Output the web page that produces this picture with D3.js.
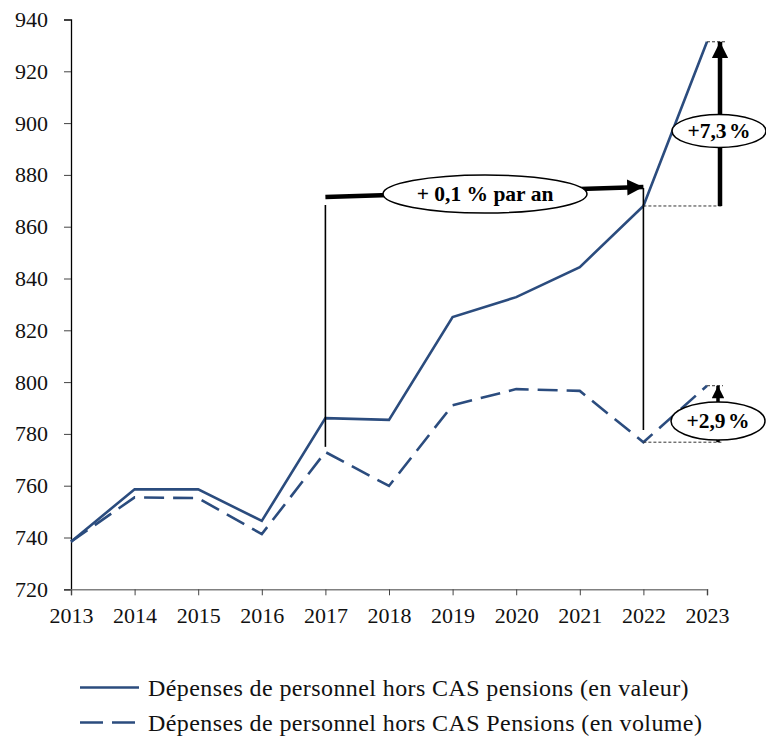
<!DOCTYPE html>
<html>
<head>
<meta charset="utf-8">
<script src="https://cdn.jsdelivr.net/npm/d3@7"></script>
<style>
  body { margin: 0; background: #fff; }
  text { font-family: "Liberation Serif", "DejaVu Serif", serif; }
</style>
</head>
<body>
<div id="chart"></div>
<script>
var years = [2013, 2014, 2015, 2016, 2017, 2018, 2019, 2020, 2021, 2022, 2023];
var valeur = [738.4, 758.6, 758.6, 746.4, 786.1, 785.4, 825.1, 832.8, 844.4, 868.0, 931.4];
var volume = [738.4, 755.5, 755.2, 741.3, 773.0, 759.9, 791.1, 797.3, 796.6, 776.8, 798.6];
var yTicks = [720, 740, 760, 780, 800, 820, 840, 860, 880, 900, 920, 940];
var seriesNames = ['Dépenses de personnel hors CAS pensions (en valeur)',
                   'Dépenses de personnel hors CAS Pensions (en volume)'];

var width = 766, height = 738;
var blue = '#2b4c7e';

var svg = d3.select('#chart')
    .append('svg')
    .attr('width', width)
    .attr('height', height);

var x = d3.scaleLinear().domain([2013, 2023]).range([71, 707]);
var y = d3.scaleLinear().domain([720, 940]).range([589.3, 19.5]);

// axes
var yAxis = svg.append('g')
    .attr('transform', 'translate(71,0)')
    .call(d3.axisLeft(y).tickValues(yTicks).tickSize(7).tickPadding(16).tickFormat(d3.format('d')));
yAxis.select('.domain').attr('stroke', '#000').attr('stroke-width', 1.3);
yAxis.selectAll('.tick line').attr('stroke', '#444');

var xAxis = svg.append('g')
    .attr('transform', 'translate(0,589.3)')
    .call(d3.axisBottom(x).tickValues(years).tickSize(6).tickPadding(12).tickFormat(d3.format('d')));
xAxis.select('.domain').attr('stroke', '#808080').attr('stroke-width', 1.6);
xAxis.selectAll('.tick line').attr('stroke', '#444');

svg.selectAll('.tick text')
    .attr('font-size', 22)
    .attr('fill', '#111');

// series lines
var line = d3.line()
    .x(function (d, i) { return x(years[i]); })
    .y(function (d) { return y(d); });

svg.append('path')
    .datum(valeur)
    .attr('d', line)
    .attr('fill', 'none')
    .attr('stroke', blue)
    .attr('stroke-width', 2.6);

svg.append('path')
    .datum(volume)
    .attr('d', line)
    .attr('fill', 'none')
    .attr('stroke', blue)
    .attr('stroke-width', 2.6)
    .attr('stroke-dasharray', '20,9');

// annotations
var defs = svg.append('defs');
defs.append('marker')
    .attr('id', 'head')
    .attr('viewBox', '0 0 10 10')
    .attr('refX', 10).attr('refY', 5)
    .attr('markerWidth', 4).attr('markerHeight', 3.6)
    .attr('markerUnits', 'strokeWidth')
    .attr('orient', 'auto')
    .append('path')
    .attr('d', 'M0,0 L10,5 L0,10 Z')
    .attr('fill', '#000');

// vertical guides at 2017 and 2022
svg.append('line')
    .attr('x1', x(2017)).attr('x2', x(2017))
    .attr('y1', 205).attr('y2', y(775))
    .attr('stroke', '#000').attr('stroke-width', 1.6);
svg.append('line')
    .attr('x1', x(2022)).attr('x2', x(2022))
    .attr('y1', 188).attr('y2', y(781.5))
    .attr('stroke', '#000').attr('stroke-width', 1.6);

// annual growth arrow
svg.append('line')
    .attr('x1', x(2017)).attr('y1', 197)
    .attr('x2', x(2022)).attr('y2', 187)
    .attr('stroke', '#000').attr('stroke-width', 4.5)
    .attr('marker-end', 'url(#head)');

// dotted reference lines
var dots = [
    [x(2022), x(2023) + 15, valeur[9]],
    [x(2023), x(2023) + 20, valeur[10]],
    [x(2022), x(2023) + 16, volume[9]],
    [x(2023), x(2023) + 16, volume[10]]
];
svg.selectAll('.dot-ref')
    .data(dots)
    .enter()
    .append('line')
    .attr('class', 'dot-ref')
    .attr('x1', function (d) { return d[0]; })
    .attr('x2', function (d) { return d[1]; })
    .attr('y1', function (d) { return y(d[2]); })
    .attr('y2', function (d) { return y(d[2]); })
    .attr('stroke', '#333')
    .attr('stroke-width', 1)
    .attr('stroke-dasharray', '3,2');

// growth arrows at 2023
var ax = x(2023) + 13;
svg.append('line')
    .attr('x1', ax).attr('x2', ax)
    .attr('y1', y(valeur[9])).attr('y2', y(valeur[10]))
    .attr('stroke', '#000').attr('stroke-width', 4.5)
    .attr('marker-end', 'url(#head)');
svg.append('line')
    .attr('x1', ax - 2).attr('x2', ax - 2)
    .attr('y1', y(volume[9])).attr('y2', y(volume[10]))
    .attr('stroke', '#000').attr('stroke-width', 3.5)
    .attr('marker-end', 'url(#head)');

// labels in ellipses
var bubbles = [
    { cx: 485, cy: 194, rx: 102, ry: 19, text: '+ 0,1 % par an' },
    { cx: 719, cy: 131, rx: 47, ry: 16.5, text: '+7,3 %' },
    { cx: 718, cy: 421, rx: 47, ry: 19, text: '+2,9 %' }
];
var b = svg.selectAll('.bubble')
    .data(bubbles)
    .enter()
    .append('g')
    .attr('class', 'bubble');
b.append('ellipse')
    .attr('cx', function (d) { return d.cx; })
    .attr('cy', function (d) { return d.cy; })
    .attr('rx', function (d) { return d.rx; })
    .attr('ry', function (d) { return d.ry; })
    .attr('fill', '#fff')
    .attr('stroke', '#000')
    .attr('stroke-width', 1.5);
b.append('text')
    .attr('x', function (d) { return d.cx; })
    .attr('y', function (d) { return d.cy + 7; })
    .attr('text-anchor', 'middle')
    .attr('font-weight', 'bold')
    .attr('font-size', 21.5)
    .attr('word-spacing', function (d, i) { return i === 0 ? 0 : -3; })
    .text(function (d) { return d.text; });

// legend
var legend = svg.selectAll('.legend')
    .data(seriesNames)
    .enter()
    .append('g')
    .attr('class', 'legend')
    .attr('transform', function (d, i) { return 'translate(0,' + (687.5 + i * 35) + ')'; });
legend.append('line')
    .attr('x1', 80).attr('x2', 139)
    .attr('stroke', blue)
    .attr('stroke-width', 2.6)
    .attr('stroke-dasharray', function (d, i) { return i === 1 ? '23,9' : null; });
legend.append('text')
    .attr('x', 148)
    .attr('y', 8)
    .attr('font-size', 24)
    .attr('letter-spacing', 0.4)
    .attr('fill', '#111')
    .text(function (d) { return d; });
</script>
</body>
</html>
